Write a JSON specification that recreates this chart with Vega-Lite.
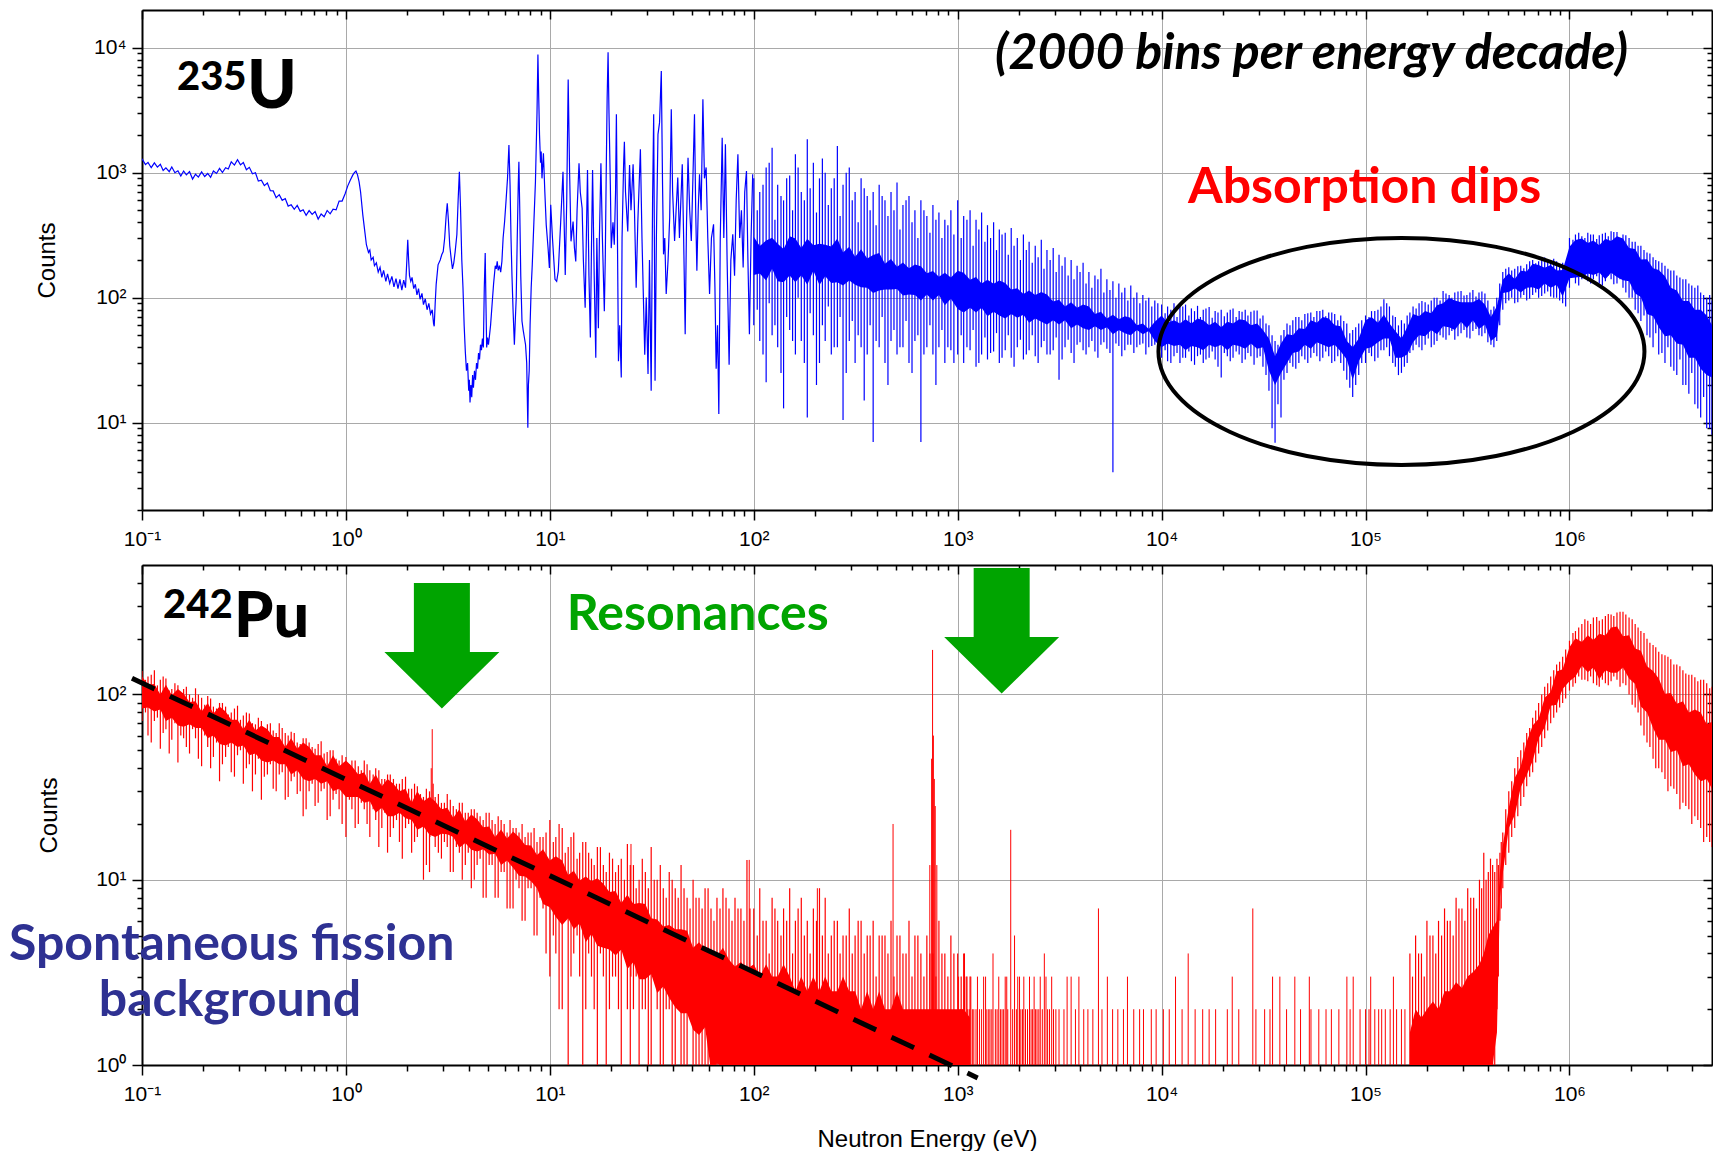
{
"$schema":"https://vega.github.io/schema/vega-lite/v6.json",
"background":"white",
"padding":{"left":9,"top":9,"right":0,"bottom":0},
"config":{"view":{"stroke":null},"axis":{"labelFont":"Liberation Sans","labelFontSize":21,"labelColor":"black","titleFont":"Liberation Sans","titleFontSize":24,"titleFontWeight":"normal","titleColor":"black","tickColor":"black","tickWidth":1.5,"domainColor":"black","domainWidth":2,"gridColor":"#a9a9a9","gridWidth":1,"labelFlush":false,"labelOverlap":false}},
"datasets":{
"uLine":[{"e":0.1,"c":1290},{"e":0.104,"c":1159},{"e":0.107,"c":1209},{"e":0.111,"c":1095},{"e":0.115,"c":1196},{"e":0.119,"c":1107},{"e":0.123,"c":1166},{"e":0.127,"c":1040},{"e":0.131,"c":1091},{"e":0.136,"c":1018},{"e":0.14,"c":1108},{"e":0.145,"c":999},{"e":0.15,"c":1035},{"e":0.155,"c":940},{"e":0.16,"c":1030},{"e":0.165,"c":960},{"e":0.171,"c":1021},{"e":0.177,"c":888},{"e":0.183,"c":970},{"e":0.189,"c":920},{"e":0.196,"c":1015},{"e":0.203,"c":931},{"e":0.21,"c":984},{"e":0.217,"c":917},{"e":0.224,"c":1030},{"e":0.232,"c":985},{"e":0.24,"c":1082},{"e":0.248,"c":1002},{"e":0.257,"c":1096},{"e":0.265,"c":1070},{"e":0.274,"c":1219},{"e":0.284,"c":1149},{"e":0.294,"c":1269},{"e":0.304,"c":1154},{"e":0.314,"c":1204},{"e":0.325,"c":1053},{"e":0.336,"c":1102},{"e":0.348,"c":980},{"e":0.36,"c":998},{"e":0.372,"c":855},{"e":0.385,"c":869},{"e":0.398,"c":787},{"e":0.412,"c":827},{"e":0.426,"c":718},{"e":0.44,"c":714},{"e":0.455,"c":630},{"e":0.471,"c":666},{"e":0.487,"c":600},{"e":0.504,"c":620},{"e":0.521,"c":540},{"e":0.539,"c":553},{"e":0.558,"c":509},{"e":0.577,"c":546},{"e":0.597,"c":490},{"e":0.617,"c":505},{"e":0.638,"c":456},{"e":0.66,"c":497},{"e":0.683,"c":463},{"e":0.706,"c":489},{"e":0.731,"c":425},{"e":0.756,"c":467},{"e":0.782,"c":444},{"e":0.809,"c":498},{"e":0.837,"c":468},{"e":0.865,"c":510},{"e":0.895,"c":504},{"e":0.926,"c":593},{"e":0.958,"c":592},{"e":0.99,"c":675},
{"e":1.02,"c":780},{"e":1.05,"c":870},{"e":1.08,"c":955},{"e":1.1,"c":1000},{"e":1.12,"c":1031},{"e":1.14,"c":960},{"e":1.16,"c":848},{"e":1.18,"c":700},{"e":1.21,"c":459},{"e":1.24,"c":330},{"e":1.26,"c":265},{"e":1.29,"c":230},{"e":1.31,"c":240},{"e":1.33,"c":200},{"e":1.36,"c":210},{"e":1.38,"c":180},{"e":1.41,"c":190},{"e":1.44,"c":160},{"e":1.47,"c":175},{"e":1.5,"c":145},{"e":1.53,"c":165},{"e":1.57,"c":135},{"e":1.6,"c":155},{"e":1.64,"c":130},{"e":1.68,"c":148},{"e":1.72,"c":122},{"e":1.76,"c":142},{"e":1.8,"c":118},{"e":1.84,"c":140},{"e":1.88,"c":115},{"e":1.92,"c":138},{"e":1.96,"c":120},{"e":1.99,"c":200},{"e":2.01,"c":290},{"e":2.03,"c":200},{"e":2.05,"c":150},{"e":2.08,"c":135},{"e":2.11,"c":145},{"e":2.15,"c":118},{"e":2.19,"c":128},{"e":2.23,"c":105},{"e":2.27,"c":118},{"e":2.31,"c":97},{"e":2.36,"c":108},{"e":2.4,"c":88},{"e":2.45,"c":98},{"e":2.5,"c":80},{"e":2.55,"c":90},{"e":2.6,"c":74},{"e":2.65,"c":80},{"e":2.69,"c":62},{"e":2.71,"c":59},{"e":2.74,"c":90},{"e":2.77,"c":127},{"e":2.83,"c":183},{"e":2.9,"c":200},{"e":2.95,"c":220},{"e":3.0,"c":234},{"e":3.05,"c":300},{"e":3.1,"c":450},{"e":3.14,"c":569},{"e":3.18,"c":420},{"e":3.23,"c":260},{"e":3.28,"c":207},{"e":3.33,"c":170},{"e":3.38,"c":190},{"e":3.43,"c":230},{"e":3.5,"c":320},{"e":3.55,"c":600},{"e":3.6,"c":1018},{"e":3.65,"c":500},{"e":3.7,"c":200},{"e":3.75,"c":120},{"e":3.8,"c":60},{"e":3.85,"c":37},{"e":3.9,"c":26},{"e":3.95,"c":30},{"e":4.0,"c":18},{"e":4.03,"c":22},{"e":4.06,"c":14.5},{"e":4.1,"c":20},{"e":4.14,"c":16},{"e":4.18,"c":24},{"e":4.22,"c":19},{"e":4.27,"c":26},{"e":4.32,"c":22},{"e":4.37,"c":30},{"e":4.42,"c":27},{"e":4.47,"c":36},{"e":4.52,"c":32},{"e":4.57,"c":42},{"e":4.62,"c":38},{"e":4.67,"c":47},{"e":4.72,"c":40},{"e":4.77,"c":120},{"e":4.82,"c":227},{"e":4.86,"c":90},{"e":4.9,"c":40},{"e":4.95,"c":48},{"e":5.0,"c":42},{"e":5.06,"c":50},{"e":5.12,"c":60},{"e":5.2,"c":85},{"e":5.3,"c":130},{"e":5.4,"c":180},{"e":5.46,"c":170},{"e":5.52,"c":195},{"e":5.58,"c":165},{"e":5.66,"c":180},{"e":5.74,"c":160},{"e":5.82,"c":195},{"e":5.9,"c":300},{"e":6.0,"c":406},{"e":6.1,"c":600},{"e":6.2,"c":900},{"e":6.3,"c":1660},{"e":6.38,"c":800},{"e":6.45,"c":300},{"e":6.52,"c":150},{"e":6.6,"c":80},{"e":6.7,"c":42},{"e":6.78,"c":70},{"e":6.84,"c":99},{"e":6.92,"c":300},{"e":7.0,"c":800},{"e":7.05,"c":1224},{"e":7.12,"c":500},{"e":7.2,"c":150},{"e":7.3,"c":65},{"e":7.4,"c":55},{"e":7.5,"c":48},{"e":7.6,"c":42},{"e":7.7,"c":30},{"e":7.8,"c":9.1},{"e":7.85,"c":20},{"e":7.92,"c":26},{"e":8.0,"c":60},{"e":8.1,"c":120},{"e":8.2,"c":183},{"e":8.35,"c":400},{"e":8.5,"c":848},{"e":8.65,"c":3000},{"e":8.74,"c":8800},{"e":8.82,"c":4000},{"e":8.9,"c":2000},{"e":9.0,"c":1200},{"e":9.07,"c":1472},{"e":9.15,"c":900},{"e":9.3,"c":1430},{"e":9.45,"c":700},{"e":9.6,"c":382},{"e":9.8,"c":250},{"e":9.95,"c":173},{"e":10.1,"c":552},{"e":10.3,"c":300},{"e":10.6,"c":140},{"e":10.8,"c":135},{"e":11.0,"c":163},{"e":11.3,"c":400},{"e":11.6,"c":1018},{"e":11.75,"c":400},{"e":11.9,"c":152},{"e":12.1,"c":600},{"e":12.3,"c":5560},{"e":12.5,"c":1000},{"e":12.7,"c":282},{"e":13.0,"c":406},{"e":13.2,"c":250},{"e":13.4,"c":195},{"e":13.6,"c":500},{"e":13.9,"c":1187},{"e":14.1,"c":700},{"e":14.4,"c":519},{"e":14.6,"c":200},{"e":14.9,"c":83},{"e":15.1,"c":300},{"e":15.3,"c":1050},{"e":15.55,"c":150},{"e":15.8,"c":48},{"e":16.0,"c":250},{"e":16.2,"c":1050},{"e":16.5,"c":150},{"e":16.8,"c":33},{"e":17.0,"c":300},{"e":17.3,"c":57},{"e":17.5,"c":300},{"e":17.8,"c":1187},{"e":18.1,"c":300},{"e":18.5,"c":78},{"e":18.7,"c":209},{"e":18.9,"c":1000},{"e":19.1,"c":4000},{"e":19.3,"c":9200},{"e":19.5,"c":3000},{"e":19.8,"c":800},{"e":20.0,"c":249},{"e":20.4,"c":400},{"e":20.7,"c":265},{"e":21.0,"c":700},{"e":21.2,"c":2930},{"e":21.4,"c":500},{"e":21.7,"c":31},{"e":22.0,"c":60},{"e":22.4,"c":23},{"e":22.6,"c":300},{"e":23.0,"c":1166},{"e":23.2,"c":1767},{"e":23.5,"c":700},{"e":24.1,"c":338},{"e":24.6,"c":1150},{"e":25.0,"c":500},{"e":25.6,"c":1166},{"e":26.0,"c":500},{"e":26.5,"c":120},{"e":27.0,"c":400},{"e":27.8,"c":1536},{"e":28.3,"c":300},{"e":29.2,"c":35},{"e":29.7,"c":100},{"e":30.3,"c":24.5},{"e":30.8,"c":200},{"e":31.4,"c":18},{"e":31.9,"c":600},{"e":32.3,"c":2930},{"e":32.6,"c":200},{"e":32.8,"c":21.6},{"e":33.3,"c":300},{"e":33.9,"c":2025},{"e":34.5,"c":2500},{"e":35.2,"c":6500},{"e":35.7,"c":800},{"e":36.1,"c":222},{"e":36.6,"c":300},{"e":37.2,"c":107},{"e":38.0,"c":200},{"e":38.7,"c":437},{"e":39.4,"c":3210},{"e":40.0,"c":700},{"e":40.9,"c":284},{"e":41.6,"c":500},{"e":42.4,"c":912},{"e":43.2,"c":300},{"e":44.6,"c":1166},{"e":45.3,"c":300},{"e":46.1,"c":51},{"e":46.8,"c":400},{"e":47.6,"c":1317},{"e":48.5,"c":500},{"e":49.4,"c":284},{"e":50.3,"c":900},{"e":51.2,"c":2930},{"e":51.9,"c":500},{"e":52.6,"c":164},{"e":53.4,"c":500},{"e":54.2,"c":970},{"e":55.2,"c":500},{"e":56.3,"c":3860},{"e":57.3,"c":900},{"e":58.4,"c":1100},{"e":59.5,"c":300},{"e":60.7,"c":107},{"e":62.0,"c":300},{"e":63.5,"c":386},{"e":64.5,"c":120},{"e":65.4,"c":27},{"e":66.4,"c":60},{"e":67.4,"c":11.7},{"e":68.5,"c":300},{"e":70,"c":1900},{"e":71.3,"c":300},{"e":72.6,"c":1690},{"e":74,"c":200},{"e":75.7,"c":29},{"e":77.2,"c":200},{"e":78.9,"c":321},{"e":80.5,"c":150},{"e":82,"c":600},{"e":83.6,"c":1400},{"e":85.3,"c":300},{"e":87,"c":500},{"e":88.7,"c":174},{"e":90.3,"c":700},{"e":92.1,"c":1031},{"e":93.6,"c":200},{"e":95.2,"c":51},{"e":97,"c":300},{"e":98.8,"c":970}],
"uBand":[{"e":100,"lo":60,"hi":900,"cl":152,"ch":307},{"e":107,"lo":45,"hi":700,"cl":156,"ch":259},{"e":115,"lo":21,"hi":1100,"cl":137,"ch":286},{"e":123,"lo":50,"hi":1580,"cl":170,"ch":301},{"e":131,"lo":40,"hi":800,"cl":135,"ch":270},{"e":140,"lo":13,"hi":600,"cl":133,"ch":245},{"e":150,"lo":55,"hi":950,"cl":150,"ch":310},{"e":160,"lo":35,"hi":1400,"cl":133,"ch":297},{"e":171,"lo":45,"hi":700,"cl":151,"ch":250},{"e":183,"lo":11,"hi":1850,"cl":127,"ch":296},{"e":196,"lo":50,"hi":1200,"cl":164,"ch":263},{"e":210,"lo":30,"hi":900,"cl":126,"ch":270},{"e":224,"lo":45,"hi":1000,"cl":148,"ch":265},{"e":240,"lo":35,"hi":750,"cl":131,"ch":257},{"e":257,"lo":40,"hi":1635,"cl":133,"ch":297},{"e":274,"lo":10.5,"hi":800,"cl":125,"ch":230},{"e":294,"lo":45,"hi":1100,"cl":137,"ch":255},{"e":314,"lo":30,"hi":700,"cl":127,"ch":212},{"e":336,"lo":40,"hi":900,"cl":121,"ch":244},{"e":360,"lo":35,"hi":650,"cl":120,"ch":206},{"e":385,"lo":7,"hi":700,"cl":109,"ch":219},{"e":412,"lo":40,"hi":800,"cl":114,"ch":228},{"e":440,"lo":30,"hi":600,"cl":116,"ch":187},{"e":471,"lo":45,"hi":700,"cl":116,"ch":204},{"e":504,"lo":35,"hi":832,"cl":117,"ch":177},{"e":539,"lo":40,"hi":550,"cl":104,"ch":191},{"e":577,"lo":30,"hi":650,"cl":106,"ch":172},{"e":617,"lo":45,"hi":500,"cl":105,"ch":184},{"e":660,"lo":7,"hi":600,"cl":95,"ch":178},{"e":706,"lo":40,"hi":450,"cl":106,"ch":157},{"e":756,"lo":35,"hi":550,"cl":95,"ch":163},{"e":809,"lo":40,"hi":480,"cl":105,"ch":147},{"e":865,"lo":30,"hi":420,"cl":87,"ch":158},{"e":926,"lo":38,"hi":500,"cl":98,"ch":145},
{"e":1000,"lo":35,"hi":600,"cl":81,"ch":164},{"e":1070,"lo":30,"hi":450,"cl":76,"ch":158},{"e":1150,"lo":38,"hi":500,"cl":83,"ch":139},{"e":1230,"lo":28,"hi":420,"cl":76,"ch":146},{"e":1310,"lo":35,"hi":480,"cl":83,"ch":130},{"e":1400,"lo":32,"hi":380,"cl":71,"ch":139},{"e":1500,"lo":37,"hi":400,"cl":77,"ch":129},{"e":1600,"lo":30,"hi":350,"cl":72,"ch":137},{"e":1710,"lo":38,"hi":330,"cl":68,"ch":131},{"e":1830,"lo":33,"hi":360,"cl":74,"ch":116},{"e":1960,"lo":40,"hi":300,"cl":69,"ch":119},{"e":2100,"lo":32,"hi":320,"cl":73,"ch":107},{"e":2240,"lo":38,"hi":280,"cl":63,"ch":114},{"e":2400,"lo":34,"hi":260,"cl":68,"ch":105},{"e":2570,"lo":40,"hi":290,"cl":64,"ch":111},{"e":2740,"lo":35,"hi":240,"cl":61,"ch":106},{"e":2940,"lo":38,"hi":250,"cl":66,"ch":93},{"e":3140,"lo":22,"hi":220,"cl":61,"ch":96},{"e":3360,"lo":40,"hi":210,"cl":66,"ch":85},{"e":3600,"lo":36,"hi":200,"cl":57,"ch":92},{"e":3850,"lo":42,"hi":180,"cl":61,"ch":83},{"e":4120,"lo":38,"hi":190,"cl":57,"ch":88},{"e":4400,"lo":40,"hi":160,"cl":55,"ch":85},{"e":4710,"lo":37,"hi":150,"cl":59,"ch":74},{"e":5040,"lo":42,"hi":170,"cl":55,"ch":77},{"e":5390,"lo":39,"hi":140,"cl":58,"ch":68},{"e":5770,"lo":4,"hi":135,"cl":51,"ch":73},{"e":6170,"lo":41,"hi":130,"cl":55,"ch":67},{"e":6600,"lo":38,"hi":120,"cl":52,"ch":71},{"e":7060,"lo":42,"hi":125,"cl":50,"ch":69},{"e":7560,"lo":40,"hi":110,"cl":55,"ch":60},{"e":8090,"lo":43,"hi":105,"cl":51,"ch":62},{"e":8650,"lo":40,"hi":100,"cl":54,"ch":56},{"e":9260,"lo":42,"hi":95,"cl":45,"ch":64},
{"e":10000,"lo":33,"hi":88,"cl":40,"ch":72},{"e":10700,"lo":31,"hi":85,"cl":43,"ch":63},{"e":11500,"lo":34,"hi":90,"cl":41,"ch":66},{"e":12300,"lo":30,"hi":84,"cl":42,"ch":62},{"e":13100,"lo":33,"hi":88,"cl":38,"ch":67},{"e":14000,"lo":31,"hi":82,"cl":41,"ch":62},{"e":15000,"lo":34,"hi":86,"cl":40,"ch":68},{"e":16000,"lo":30,"hi":80,"cl":38,"ch":66},{"e":17100,"lo":33,"hi":84,"cl":42,"ch":60},{"e":18300,"lo":32,"hi":78,"cl":40,"ch":64},{"e":19600,"lo":23,"hi":80,"cl":42,"ch":58},{"e":21000,"lo":34,"hi":76,"cl":38,"ch":64},{"e":22400,"lo":33,"hi":82,"cl":42,"ch":62},{"e":24000,"lo":35,"hi":78,"cl":41,"ch":67},{"e":25700,"lo":32,"hi":80,"cl":39,"ch":66},{"e":27400,"lo":34,"hi":77,"cl":43,"ch":60},{"e":29400,"lo":33,"hi":79,"cl":39,"ch":62},{"e":31400,"lo":28,"hi":72,"cl":40,"ch":55},{"e":33600,"lo":18,"hi":60,"cl":26,"ch":47},{"e":36000,"lo":6.9,"hi":45,"cl":20,"ch":34},{"e":38500,"lo":11,"hi":50,"cl":25,"ch":43},{"e":41200,"lo":25,"hi":62,"cl":30,"ch":51},{"e":44000,"lo":28,"hi":66,"cl":36,"ch":50},{"e":47100,"lo":30,"hi":70,"cl":37,"ch":57},{"e":50400,"lo":32,"hi":74,"cl":42,"ch":56},{"e":53900,"lo":33,"hi":76,"cl":39,"ch":66},{"e":57700,"lo":34,"hi":78,"cl":44,"ch":63},{"e":61700,"lo":33,"hi":80,"cl":42,"ch":70},{"e":66000,"lo":34,"hi":76,"cl":40,"ch":68},{"e":70600,"lo":31,"hi":74,"cl":42,"ch":60},{"e":75600,"lo":30,"hi":72,"cl":37,"ch":59},{"e":80900,"lo":22,"hi":62,"cl":32,"ch":45},{"e":86500,"lo":16,"hi":55,"cl":22,"ch":40},{"e":92600,"lo":24,"hi":62,"cl":31,"ch":47},
{"e":100000,"lo":30,"hi":72,"cl":39,"ch":66},{"e":107000,"lo":34,"hi":78,"cl":40,"ch":70},{"e":115000,"lo":33,"hi":80,"cl":44,"ch":63},{"e":123000,"lo":38,"hi":97,"cl":47,"ch":73},{"e":131000,"lo":34,"hi":85,"cl":47,"ch":62},{"e":140000,"lo":28,"hi":70,"cl":33,"ch":54},{"e":150000,"lo":25,"hi":66,"cl":33,"ch":47},{"e":160000,"lo":30,"hi":72,"cl":35,"ch":58},{"e":171000,"lo":38,"hi":85,"cl":44,"ch":74},{"e":183000,"lo":40,"hi":90,"cl":50,"ch":71},{"e":196000,"lo":42,"hi":92,"cl":49,"ch":78},{"e":210000,"lo":40,"hi":95,"cl":55,"ch":75},{"e":224000,"lo":45,"hi":100,"cl":51,"ch":87},{"e":240000,"lo":48,"hi":113,"cl":59,"ch":90},{"e":257000,"lo":50,"hi":105,"cl":58,"ch":100},{"e":274000,"lo":46,"hi":110,"cl":55,"ch":95},{"e":294000,"lo":52,"hi":113,"cl":64,"ch":92},{"e":314000,"lo":48,"hi":105,"cl":57,"ch":92},{"e":336000,"lo":54,"hi":115,"cl":66,"ch":92},{"e":360000,"lo":50,"hi":110,"cl":56,"ch":98},{"e":385000,"lo":52,"hi":108,"cl":61,"ch":88},{"e":412000,"lo":42,"hi":80,"cl":45,"ch":70},{"e":440000,"lo":45,"hi":100,"cl":49,"ch":85},{"e":471000,"lo":80,"hi":160,"cl":109,"ch":139},{"e":504000,"lo":95,"hi":175,"cl":111,"ch":157},{"e":539000,"lo":90,"hi":170,"cl":119,"ch":141},{"e":577000,"lo":100,"hi":180,"cl":110,"ch":164},{"e":617000,"lo":95,"hi":185,"cl":120,"ch":162},{"e":660000,"lo":105,"hi":200,"cl":121,"ch":187},{"e":706000,"lo":100,"hi":195,"cl":116,"ch":182},{"e":756000,"lo":108,"hi":209,"cl":130,"ch":173},{"e":809000,"lo":102,"hi":200,"cl":120,"ch":182},{"e":865000,"lo":100,"hi":195,"cl":127,"ch":165},{"e":926000,"lo":90,"hi":190,"cl":102,"ch":166},
{"e":1000000,"lo":120,"hi":300,"cl":143,"ch":255},{"e":1070000,"lo":130,"hi":320,"cl":145,"ch":289},{"e":1150000,"lo":140,"hi":310,"cl":147,"ch":297},{"e":1230000,"lo":135,"hi":330,"cl":156,"ch":274},{"e":1310000,"lo":140,"hi":320,"cl":152,"ch":286},{"e":1400000,"lo":130,"hi":315,"cl":159,"ch":263},{"e":1500000,"lo":135,"hi":330,"cl":140,"ch":296},{"e":1600000,"lo":140,"hi":340,"cl":158,"ch":284},{"e":1710000,"lo":130,"hi":335,"cl":146,"ch":310},{"e":1830000,"lo":120,"hi":320,"cl":138,"ch":297},{"e":1960000,"lo":100,"hi":300,"cl":135,"ch":250},{"e":2100000,"lo":80,"hi":280,"cl":108,"ch":245},{"e":2240000,"lo":65,"hi":260,"cl":101,"ch":202},{"e":2400000,"lo":50,"hi":230,"cl":74,"ch":203},{"e":2570000,"lo":40,"hi":210,"cl":71,"ch":172},{"e":2740000,"lo":35,"hi":195,"cl":58,"ch":166},{"e":2940000,"lo":30,"hi":180,"cl":49,"ch":148},{"e":3140000,"lo":28,"hi":165,"cl":50,"ch":120},{"e":3360000,"lo":24,"hi":150,"cl":43,"ch":114},{"e":3600000,"lo":20,"hi":140,"cl":42,"ch":94},{"e":3850000,"lo":17,"hi":130,"cl":33,"ch":94},{"e":4120000,"lo":14,"hi":120,"cl":33,"ch":80},{"e":4400000,"lo":11,"hi":110,"cl":27,"ch":80},{"e":4710000,"lo":9,"hi":100,"cl":24,"ch":72},{"e":5000000,"lo":8,"hi":95,"cl":23,"ch":60}],
"uRules2":[{"e":104,"lo":80,"hi":500},{"e":111,"lo":35,"hi":800},{"e":119,"lo":90,"hi":1200},{"e":127,"lo":60,"hi":420},{"e":136,"lo":25,"hi":650},{"e":145,"lo":70,"hi":900},{"e":155,"lo":45,"hi":500},{"e":165,"lo":100,"hi":1100},{"e":177,"lo":30,"hi":600},{"e":189,"lo":75,"hi":750},{"e":203,"lo":20,"hi":480},{"e":217,"lo":60,"hi":1300},{"e":232,"lo":85,"hi":550},{"e":248,"lo":40,"hi":900},{"e":265,"lo":70,"hi":450},{"e":284,"lo":25,"hi":1000},{"e":304,"lo":65,"hi":600},{"e":325,"lo":50,"hi":400},{"e":348,"lo":15,"hi":750},{"e":372,"lo":60,"hi":500},{"e":398,"lo":45,"hi":380},{"e":426,"lo":70,"hi":650},{"e":455,"lo":20,"hi":450},{"e":487,"lo":55,"hi":500},{"e":521,"lo":40,"hi":350},{"e":558,"lo":65,"hi":600},{"e":597,"lo":25,"hi":400},{"e":638,"lo":50,"hi":300},{"e":683,"lo":35,"hi":500},{"e":731,"lo":60,"hi":330},{"e":782,"lo":20,"hi":420},{"e":837,"lo":55,"hi":300},{"e":895,"lo":40,"hi":380},{"e":958,"lo":30,"hi":320},
{"e":1040,"lo":50,"hi":300},{"e":1110,"lo":40,"hi":420},{"e":1190,"lo":55,"hi":260},{"e":1270,"lo":30,"hi":350},{"e":1360,"lo":48,"hi":280},{"e":1450,"lo":36,"hi":300},{"e":1550,"lo":52,"hi":240},{"e":1650,"lo":33,"hi":320},{"e":1770,"lo":50,"hi":220},{"e":1890,"lo":28,"hi":260},{"e":2030,"lo":46,"hi":200},{"e":2170,"lo":35,"hi":240},{"e":2320,"lo":50,"hi":190},{"e":2480,"lo":30,"hi":210},{"e":2650,"lo":45,"hi":170},{"e":2840,"lo":35,"hi":200},{"e":3040,"lo":48,"hi":160},{"e":3250,"lo":32,"hi":180},{"e":3480,"lo":46,"hi":150},{"e":3720,"lo":30,"hi":140},{"e":3980,"lo":44,"hi":160},{"e":4260,"lo":35,"hi":130},{"e":4550,"lo":45,"hi":120},{"e":4870,"lo":33,"hi":140},{"e":5210,"lo":44,"hi":110},{"e":5580,"lo":36,"hi":115},{"e":5970,"lo":43,"hi":100},{"e":6380,"lo":34,"hi":110},{"e":6830,"lo":42,"hi":95},{"e":7310,"lo":36,"hi":100},{"e":7820,"lo":42,"hi":90},{"e":8370,"lo":35,"hi":95},{"e":8950,"lo":41,"hi":85},{"e":9580,"lo":34,"hi":90},
{"e":10400,"lo":38,"hi":75},{"e":11100,"lo":30,"hi":80},{"e":11900,"lo":36,"hi":70},{"e":12700,"lo":33,"hi":85},{"e":13600,"lo":37,"hi":72},{"e":14500,"lo":29,"hi":78},{"e":15500,"lo":35,"hi":70},{"e":16500,"lo":32,"hi":82},{"e":17700,"lo":37,"hi":69},{"e":18900,"lo":28,"hi":76},{"e":20300,"lo":36,"hi":71},{"e":21700,"lo":31,"hi":80},{"e":23200,"lo":37,"hi":70},{"e":24800,"lo":30,"hi":77},{"e":26500,"lo":36,"hi":72},{"e":28400,"lo":29,"hi":79},{"e":30400,"lo":34,"hi":68},{"e":32500,"lo":24,"hi":62},{"e":34800,"lo":9,"hi":50},{"e":37200,"lo":14,"hi":42},{"e":39800,"lo":22,"hi":55},{"e":42600,"lo":30,"hi":60},{"e":45500,"lo":27,"hi":70},{"e":48700,"lo":34,"hi":66},{"e":52100,"lo":30,"hi":75},{"e":55800,"lo":36,"hi":70},{"e":59700,"lo":31,"hi":78},{"e":63800,"lo":37,"hi":71},{"e":68300,"lo":30,"hi":76},{"e":73100,"lo":34,"hi":66},{"e":78200,"lo":26,"hi":65},{"e":83700,"lo":19,"hi":52},{"e":89500,"lo":20,"hi":58},{"e":95800,"lo":30,"hi":66},
{"e":104000,"lo":36,"hi":70},{"e":111000,"lo":31,"hi":78},{"e":119000,"lo":38,"hi":85},{"e":127000,"lo":40,"hi":90},{"e":136000,"lo":30,"hi":72},{"e":145000,"lo":24,"hi":60},{"e":155000,"lo":28,"hi":62},{"e":165000,"lo":36,"hi":76},{"e":177000,"lo":42,"hi":82},{"e":189000,"lo":38,"hi":94},{"e":203000,"lo":47,"hi":88},{"e":217000,"lo":42,"hi":100},{"e":232000,"lo":50,"hi":95},{"e":248000,"lo":46,"hi":108},{"e":265000,"lo":54,"hi":100},{"e":284000,"lo":49,"hi":112},{"e":304000,"lo":55,"hi":104},{"e":325000,"lo":47,"hi":110},{"e":348000,"lo":56,"hi":102},{"e":372000,"lo":49,"hi":112},{"e":398000,"lo":44,"hi":95},{"e":426000,"lo":40,"hi":85},{"e":455000,"lo":60,"hi":130},{"e":487000,"lo":90,"hi":170},{"e":521000,"lo":100,"hi":165},{"e":558000,"lo":92,"hi":178},{"e":597000,"lo":105,"hi":172},{"e":638000,"lo":98,"hi":195},{"e":683000,"lo":110,"hi":188},{"e":731000,"lo":103,"hi":205},{"e":782000,"lo":112,"hi":196},{"e":837000,"lo":100,"hi":205},{"e":895000,"lo":95,"hi":185},{"e":958000,"lo":85,"hi":175},
{"e":1040000,"lo":150,"hi":290},{"e":1110000,"lo":125,"hi":330},{"e":1190000,"lo":150,"hi":300},{"e":1270000,"lo":130,"hi":320},{"e":1360000,"lo":148,"hi":295},{"e":1450000,"lo":125,"hi":325},{"e":1550000,"lo":150,"hi":310},{"e":1650000,"lo":128,"hi":335},{"e":1770000,"lo":140,"hi":300},{"e":1890000,"lo":110,"hi":315},{"e":2030000,"lo":100,"hi":280},{"e":2170000,"lo":75,"hi":260},{"e":2320000,"lo":72,"hi":240},{"e":2480000,"lo":48,"hi":225},{"e":2650000,"lo":52,"hi":200},{"e":2840000,"lo":36,"hi":190},{"e":3040000,"lo":40,"hi":170},{"e":3250000,"lo":26,"hi":165},{"e":3480000,"lo":32,"hi":145},{"e":3720000,"lo":20,"hi":140},{"e":3980000,"lo":25,"hi":125},{"e":4260000,"lo":13,"hi":125},{"e":4550000,"lo":16,"hi":105},{"e":4870000,"lo":9,"hi":105}],
"puBandA":[{"e":0.1,"lo":72,"hi":134,"cl":84,"ch":125},{"e":0.107,"lo":60,"hi":125,"cl":85,"ch":113},{"e":0.115,"lo":72,"hi":135,"cl":81,"ch":114},{"e":0.123,"lo":51,"hi":120,"cl":83,"ch":100},{"e":0.131,"lo":65,"hi":122,"cl":72,"ch":113},{"e":0.14,"lo":57,"hi":107,"cl":75,"ch":99},{"e":0.15,"lo":43,"hi":112,"cl":68,"ch":107},{"e":0.16,"lo":58,"hi":107,"cl":67,"ch":101},{"e":0.171,"lo":48,"hi":100,"cl":69,"ch":91},{"e":0.183,"lo":58,"hi":108,"cl":66,"ch":92},{"e":0.196,"lo":41,"hi":96,"cl":66,"ch":81},{"e":0.21,"lo":52,"hi":98,"cl":58,"ch":90},{"e":0.224,"lo":46,"hi":86,"cl":60,"ch":79},{"e":0.24,"lo":34,"hi":90,"cl":54,"ch":86},{"e":0.257,"lo":46,"hi":86,"cl":53,"ch":81},{"e":0.274,"lo":38,"hi":80,"cl":55,"ch":73},{"e":0.294,"lo":47,"hi":87,"cl":52,"ch":73},{"e":0.314,"lo":33,"hi":77,"cl":53,"ch":65},{"e":0.336,"lo":42,"hi":79,"cl":47,"ch":73},{"e":0.36,"lo":37,"hi":69,"cl":48,"ch":64},{"e":0.385,"lo":27,"hi":72,"cl":44,"ch":68},{"e":0.412,"lo":37,"hi":69,"cl":43,"ch":65},{"e":0.44,"lo":31,"hi":64,"cl":44,"ch":59},{"e":0.471,"lo":37,"hi":70,"cl":42,"ch":59},{"e":0.504,"lo":27,"hi":62,"cl":42,"ch":52},{"e":0.539,"lo":34,"hi":63,"cl":37,"ch":58},{"e":0.577,"lo":29,"hi":55,"cl":39,"ch":51},{"e":0.617,"lo":22,"hi":58,"cl":35,"ch":55},{"e":0.66,"lo":30,"hi":55,"cl":34,"ch":52},{"e":0.706,"lo":25,"hi":51,"cl":35,"ch":47},{"e":0.756,"lo":30,"hi":56,"cl":33,"ch":47},{"e":0.809,"lo":21,"hi":49,"cl":34,"ch":41},{"e":0.865,"lo":27,"hi":50,"cl":30,"ch":47},{"e":0.926,"lo":24,"hi":44,"cl":31,"ch":41},
{"e":1,"lo":17,"hi":46,"cl":28,"ch":44},{"e":1.07,"lo":24,"hi":44,"cl":28,"ch":41},{"e":1.15,"lo":20,"hi":41,"cl":28,"ch":37},{"e":1.23,"lo":24,"hi":44,"cl":26,"ch":38},{"e":1.31,"lo":17,"hi":39,"cl":26.5,"ch":33},{"e":1.4,"lo":21,"hi":40,"cl":23,"ch":37},{"e":1.5,"lo":19,"hi":35,"cl":24.5,"ch":32},{"e":1.6,"lo":14,"hi":37,"cl":22,"ch":35},{"e":1.71,"lo":19,"hi":35,"cl":22,"ch":33},{"e":1.83,"lo":16,"hi":33,"cl":23,"ch":30},{"e":1.96,"lo":19,"hi":36,"cl":21.5,"ch":31},{"e":2.1,"lo":14,"hi":31,"cl":21,"ch":26},{"e":2.24,"lo":17,"hi":32,"cl":18.6,"ch":30},{"e":2.4,"lo":10,"hi":28,"cl":19.4,"ch":26.5},{"e":2.57,"lo":11,"hi":30,"cl":17.5,"ch":28},{"e":2.74,"lo":15,"hi":28,"cl":17,"ch":26.5},{"e":2.94,"lo":13,"hi":26,"cl":17.7,"ch":24},{"e":3.14,"lo":15,"hi":29,"cl":17.6,"ch":24.5},{"e":3.36,"lo":11,"hi":25,"cl":17,"ch":21.6},{"e":3.6,"lo":14,"hi":26,"cl":14.9,"ch":24},{"e":3.85,"lo":12,"hi":23,"cl":15.8,"ch":20.6},{"e":4.12,"lo":9,"hi":24,"cl":14.5,"ch":22.5},{"e":4.4,"lo":12,"hi":23,"cl":14.2,"ch":21.2},{"e":4.71,"lo":8,"hi":21,"cl":14.6,"ch":19.2},{"e":5.04,"lo":12,"hi":23,"cl":13.7,"ch":19.4},{"e":5.39,"lo":8,"hi":20,"cl":13.8,"ch":17},{"e":5.77,"lo":11,"hi":21,"cl":12,"ch":18.7},{"e":6.17,"lo":7,"hi":18,"cl":12.7,"ch":16.7},{"e":6.6,"lo":7,"hi":19,"cl":11.6,"ch":18.2},{"e":7.06,"lo":9,"hi":18,"cl":10.5,"ch":17},{"e":7.56,"lo":6,"hi":17,"cl":10.4,"ch":15.4},{"e":8.09,"lo":9,"hi":18,"cl":9.8,"ch":15.3},{"e":8.65,"lo":5,"hi":16,"cl":9,"ch":13.6},{"e":9.26,"lo":7,"hi":17,"cl":7.4,"ch":14.6},
{"e":10,"lo":3,"hi":21,"cl":7.1,"ch":12.7},{"e":10.7,"lo":4,"hi":17,"cl":6.3,"ch":13.4},{"e":11.5,"lo":2,"hi":19,"cl":5.7,"ch":12.7},{"e":12.3,"lo":0.5,"hi":15,"cl":6.2,"ch":10.6},{"e":13.1,"lo":4,"hi":18,"cl":5.4,"ch":11.2},{"e":14,"lo":3,"hi":14,"cl":5.8,"ch":9.9},{"e":15,"lo":2,"hi":16,"cl":4.6,"ch":10.4},{"e":16,"lo":3,"hi":13,"cl":5.1,"ch":9.8},{"e":17.1,"lo":0.5,"hi":15,"cl":4.4,"ch":10.2},{"e":18.3,"lo":3,"hi":12,"cl":4.3,"ch":9.5},{"e":19.6,"lo":2,"hi":14,"cl":4.2,"ch":8.6},{"e":21,"lo":3,"hi":11,"cl":3.9,"ch":8.7},{"e":22.4,"lo":0.5,"hi":13,"cl":4.2,"ch":7.5},{"e":24,"lo":2,"hi":15.6,"cl":3.3,"ch":8.3},{"e":25.7,"lo":2,"hi":12,"cl":3.6,"ch":7.4},{"e":27.4,"lo":0.5,"hi":10,"cl":2.9,"ch":7.5},{"e":29.4,"lo":2,"hi":11,"cl":2.9,"ch":7.4},{"e":31.4,"lo":0.5,"hi":15,"cl":3.1,"ch":6.2},{"e":33.6,"lo":2,"hi":10,"cl":2.45,"ch":6.1},{"e":36,"lo":0.5,"hi":9,"cl":2.65,"ch":5.6},{"e":38.5,"lo":2,"hi":11,"cl":2.3,"ch":5.7},{"e":41.2,"lo":0.5,"hi":9,"cl":2.05,"ch":5.4},{"e":44,"lo":1,"hi":12,"cl":1.9,"ch":5.4},{"e":47.1,"lo":0.5,"hi":8,"cl":1.9,"ch":5.3},{"e":50.4,"lo":0.5,"hi":10,"cl":1.55,"ch":4.3},{"e":53.9,"lo":1,"hi":8,"cl":1.45,"ch":4.6},{"e":57.7,"lo":0.5,"hi":9,"cl":1.6,"ch":4.2},{"e":61.7,"lo":0.5,"hi":7,"cl":0.93,"ch":4.2},{"e":66,"lo":1,"hi":8,"cl":1.02,"ch":3.9},{"e":70.6,"lo":0.5,"hi":9,"cl":0.97,"ch":4.3},{"e":75.6,"lo":0.5,"hi":7,"cl":0.5,"ch":3.7},{"e":80.9,"lo":0.5,"hi":8,"cl":0.5,"ch":3.4},{"e":86.5,"lo":1,"hi":7,"cl":0.5,"ch":3.6},{"e":92.6,"lo":0.5,"hi":12.8,"cl":0.5,"ch":3.3},
{"e":100,"lo":0.5,"hi":7,"cl":0.5,"ch":3.5},{"e":107,"lo":0.5,"hi":9,"cl":0.5,"ch":3},{"e":115,"lo":0.5,"hi":6,"cl":0.5,"ch":3.5},{"e":123,"lo":0.5,"hi":8,"cl":0.5,"ch":3},{"e":131,"lo":0.5,"hi":6,"cl":0.5,"ch":3},{"e":140,"lo":0.5,"hi":7,"cl":0.5,"ch":3.5},{"e":150,"lo":0.5,"hi":9,"cl":0.5,"ch":3},{"e":160,"lo":0.5,"hi":6,"cl":0.5,"ch":2.5},{"e":171,"lo":0.5,"hi":8,"cl":0.5,"ch":3},{"e":183,"lo":0.5,"hi":6,"cl":0.5,"ch":2.5},{"e":196,"lo":0.5,"hi":7,"cl":0.5,"ch":3},{"e":210,"lo":0.5,"hi":9,"cl":0.5,"ch":2.5},{"e":224,"lo":0.5,"hi":8,"cl":0.5,"ch":3},{"e":240,"lo":0.5,"hi":5,"cl":0.5,"ch":2.5},{"e":257,"lo":0.5,"hi":6,"cl":0.5,"ch":2.5},{"e":274,"lo":0.5,"hi":5,"cl":0.5,"ch":3},{"e":294,"lo":0.5,"hi":7,"cl":0.5,"ch":2.5},{"e":314,"lo":0.5,"hi":5,"cl":0.5,"ch":2.5},{"e":336,"lo":0.5,"hi":6,"cl":0.5,"ch":2},{"e":360,"lo":0.5,"hi":5,"cl":0.5,"ch":2.5},{"e":385,"lo":0.5,"hi":6,"cl":0.5,"ch":2},{"e":412,"lo":0.5,"hi":5,"cl":0.5,"ch":2.5},{"e":440,"lo":0.5,"hi":5,"cl":0.5,"ch":2},{"e":471,"lo":0.5,"hi":6,"cl":0.5,"ch":2},{"e":504,"lo":0.5,"hi":5,"cl":0.5,"ch":2.5},{"e":539,"lo":0.5,"hi":4,"cl":0.5,"ch":2},{"e":577,"lo":0.5,"hi":6,"cl":0.5,"ch":2},{"e":617,"lo":0.5,"hi":5,"cl":0.5,"ch":2},{"e":660,"lo":0.5,"hi":4,"cl":0.5,"ch":2},{"e":706,"lo":0.5,"hi":5,"cl":0.5,"ch":2},{"e":756,"lo":0.5,"hi":4,"cl":0.5,"ch":2},{"e":809,"lo":0.5,"hi":6,"cl":0.5,"ch":2},{"e":865,"lo":0.5,"hi":4,"cl":0.5,"ch":2},{"e":926,"lo":0.5,"hi":5,"cl":0.5,"ch":2},{"e":1000,"lo":0.5,"hi":4,"cl":0.5,"ch":2},{"e":1070,"lo":0.5,"hi":4,"cl":0.5,"ch":2},{"e":1150,"lo":0.5,"hi":3,"cl":0.5,"ch":1.8}],
"puBandB":[{"e":165000,"lo":0.5,"hi":4,"cl":0.5,"ch":1.5},{"e":176000,"lo":0.5,"hi":5,"cl":0.5,"ch":2},{"e":188000,"lo":0.5,"hi":4,"cl":0.5,"ch":1.8},{"e":200000,"lo":0.5,"hi":6,"cl":0.5,"ch":2},{"e":214000,"lo":0.5,"hi":5,"cl":0.5,"ch":2.2},{"e":228000,"lo":0.5,"hi":6,"cl":0.5,"ch":2},{"e":244000,"lo":0.5,"hi":7,"cl":0.5,"ch":2.5},{"e":260000,"lo":0.5,"hi":6,"cl":0.5,"ch":2.5},{"e":278000,"lo":0.5,"hi":8,"cl":0.5,"ch":2.8},{"e":297000,"lo":0.5,"hi":7,"cl":0.5,"ch":2.6},{"e":317000,"lo":0.5,"hi":9,"cl":0.5,"ch":3},{"e":339000,"lo":0.5,"hi":8,"cl":0.5,"ch":3.2},{"e":362000,"lo":0.5,"hi":10,"cl":0.5,"ch":3.5},{"e":380000,"lo":0.5,"hi":14,"cl":0.5,"ch":4},{"e":400000,"lo":1,"hi":11,"cl":1,"ch":5},{"e":420000,"lo":1,"hi":12,"cl":1,"ch":5.5},{"e":441000,"lo":2,"hi":13,"cl":1.5,"ch":6},{"e":456000,"lo":6,"hi":14,"cl":8,"ch":11},{"e":471000,"lo":9,"hi":18,"cl":10.8,"ch":15.3},{"e":504000,"lo":14,"hi":30,"cl":19,"ch":24.5},{"e":539000,"lo":19,"hi":40,"cl":22.3,"ch":35.4},{"e":577000,"lo":25,"hi":50,"cl":31.6,"ch":41},{"e":617000,"lo":32,"hi":62,"cl":36.9,"ch":55.6},{"e":660000,"lo":38,"hi":75,"cl":43.7,"ch":68},{"e":706000,"lo":48,"hi":90,"cl":58,"ch":74},{"e":756000,"lo":58,"hi":110,"cl":66.6,"ch":96},{"e":809000,"lo":70,"hi":125,"cl":87,"ch":103},{"e":865000,"lo":80,"hi":145,"cl":88,"ch":133},{"e":926000,"lo":90,"hi":160,"cl":107,"ch":137},{"e":1000000,"lo":105,"hi":195,"cl":118,"ch":180},{"e":1070000,"lo":115,"hi":220,"cl":125,"ch":201},{"e":1150000,"lo":120,"hi":240,"cl":143,"ch":192},{"e":1230000,"lo":118,"hi":250,"cl":132,"ch":209},{"e":1310000,"lo":115,"hi":260,"cl":140,"ch":197},{"e":1400000,"lo":110,"hi":250,"cl":121,"ch":213},{"e":1500000,"lo":115,"hi":265,"cl":135,"ch":208},{"e":1600000,"lo":118,"hi":270,"cl":131,"ch":230},{"e":1710000,"lo":120,"hi":277,"cl":131,"ch":233},{"e":1830000,"lo":115,"hi":280,"cl":140,"ch":206},{"e":1960000,"lo":100,"hi":260,"cl":122,"ch":209},{"e":2100000,"lo":85,"hi":240,"cl":114,"ch":177},{"e":2240000,"lo":68,"hi":220,"cl":86,"ch":172},{"e":2400000,"lo":55,"hi":200,"cl":80,"ch":142},{"e":2570000,"lo":45,"hi":185,"cl":66,"ch":134},{"e":2740000,"lo":40,"hi":170,"cl":57,"ch":122},{"e":2940000,"lo":35,"hi":163,"cl":57,"ch":101},{"e":3140000,"lo":32,"hi":155,"cl":49,"ch":102},{"e":3360000,"lo":29,"hi":145,"cl":50,"ch":89},{"e":3600000,"lo":26,"hi":135,"cl":41,"ch":92},{"e":3850000,"lo":24,"hi":128,"cl":42,"ch":80},{"e":4120000,"lo":22,"hi":124,"cl":37,"ch":83},{"e":4400000,"lo":19,"hi":120,"cl":34,"ch":80},{"e":4710000,"lo":17,"hi":115,"cl":35,"ch":69},{"e":5000000,"lo":15,"hi":110,"cl":31,"ch":71}],
"puRules2":[{"e":0.104,"lo":80,"hi":120},{"e":0.111,"lo":55,"hi":128},{"e":0.119,"lo":75,"hi":112},{"e":0.127,"lo":62,"hi":125},{"e":0.136,"lo":48,"hi":105},{"e":0.145,"lo":70,"hi":115},{"e":0.155,"lo":60,"hi":100},{"e":0.165,"lo":52,"hi":110},{"e":0.177,"lo":65,"hi":96},{"e":0.189,"lo":45,"hi":100},{"e":0.203,"lo":60,"hi":88},{"e":0.217,"lo":40,"hi":95},{"e":0.232,"lo":55,"hi":84},{"e":0.248,"lo":42,"hi":90},{"e":0.265,"lo":52,"hi":78},{"e":0.284,"lo":36,"hi":84},{"e":0.304,"lo":50,"hi":73},{"e":0.325,"lo":40,"hi":80},{"e":0.348,"lo":30,"hi":70},{"e":0.372,"lo":45,"hi":75},{"e":0.398,"lo":36,"hi":66},{"e":0.426,"lo":42,"hi":70},{"e":0.455,"lo":30,"hi":62},{"e":0.487,"lo":38,"hi":66},{"e":0.521,"lo":28,"hi":60},{"e":0.558,"lo":36,"hi":62},{"e":0.597,"lo":30,"hi":54},{"e":0.638,"lo":24,"hi":58},{"e":0.683,"lo":33,"hi":52},{"e":0.731,"lo":26,"hi":54},{"e":0.782,"lo":31,"hi":48},{"e":0.837,"lo":22,"hi":50},{"e":0.895,"lo":29,"hi":45},{"e":0.958,"lo":20,"hi":47},
{"e":1.04,"lo":27,"hi":42},{"e":1.11,"lo":19,"hi":44},{"e":1.19,"lo":26,"hi":39},{"e":1.27,"lo":20,"hi":42},{"e":1.36,"lo":24,"hi":37},{"e":1.45,"lo":15,"hi":39},{"e":1.55,"lo":23,"hi":35},{"e":1.65,"lo":17,"hi":37},{"e":1.77,"lo":21,"hi":33},{"e":1.89,"lo":13,"hi":35},{"e":2.03,"lo":20,"hi":31},{"e":2.17,"lo":16,"hi":33},{"e":2.32,"lo":19,"hi":29},{"e":2.48,"lo":12,"hi":31},{"e":2.58,"lo":17,"hi":28},{"e":2.84,"lo":14,"hi":29},{"e":3.04,"lo":16,"hi":26},{"e":3.25,"lo":11,"hi":27},{"e":3.48,"lo":15,"hi":24},{"e":3.72,"lo":10,"hi":26},{"e":3.98,"lo":14,"hi":23},{"e":4.26,"lo":10,"hi":24},{"e":4.55,"lo":13,"hi":22},{"e":4.87,"lo":8,"hi":23},{"e":5.21,"lo":12,"hi":21},{"e":5.58,"lo":8,"hi":22},{"e":5.97,"lo":11,"hi":20},{"e":6.38,"lo":7,"hi":21},{"e":6.83,"lo":10,"hi":19},{"e":7.31,"lo":6,"hi":20},{"e":7.82,"lo":9,"hi":18},{"e":8.37,"lo":5,"hi":19},{"e":8.95,"lo":8,"hi":17},{"e":9.58,"lo":4,"hi":18},
{"e":10.4,"lo":5,"hi":16},{"e":11.1,"lo":2,"hi":20},{"e":11.9,"lo":6,"hi":14},{"e":12.7,"lo":3,"hi":17},{"e":13.6,"lo":5,"hi":13},{"e":14.5,"lo":0.5,"hi":16},{"e":15.5,"lo":4,"hi":14},{"e":16.5,"lo":2,"hi":12},{"e":17.7,"lo":4,"hi":15},{"e":18.9,"lo":0.5,"hi":11},{"e":20.3,"lo":3,"hi":13},{"e":21.7,"lo":2,"hi":12},{"e":23.2,"lo":4,"hi":10},{"e":24.8,"lo":0.5,"hi":12},{"e":26.5,"lo":3,"hi":9},{"e":28.4,"lo":2,"hi":13},{"e":30.4,"lo":0.5,"hi":9},{"e":32.5,"lo":3,"hi":10},{"e":34.8,"lo":1,"hi":12},{"e":37.2,"lo":2,"hi":8},{"e":39.8,"lo":0.5,"hi":10},{"e":42.6,"lo":2,"hi":8},{"e":45.5,"lo":0.5,"hi":9},{"e":48.7,"lo":2,"hi":7},{"e":52.1,"lo":0.5,"hi":8},{"e":55.8,"lo":1,"hi":7},{"e":59.7,"lo":0.5,"hi":9},{"e":63.8,"lo":2,"hi":6},{"e":68.3,"lo":0.5,"hi":7},{"e":73.1,"lo":1,"hi":8},{"e":78.2,"lo":0.5,"hi":6},{"e":83.7,"lo":0.5,"hi":7},{"e":89.5,"lo":1,"hi":6},{"e":95.8,"lo":0.5,"hi":7},
{"e":104,"lo":0.5,"hi":5},{"e":111,"lo":0.5,"hi":6},{"e":119,"lo":0.5,"hi":4},{"e":127,"lo":0.5,"hi":7},{"e":136,"lo":0.5,"hi":5},{"e":145,"lo":0.5,"hi":6},{"e":155,"lo":0.5,"hi":4},{"e":165,"lo":0.5,"hi":7},{"e":177,"lo":0.5,"hi":5},{"e":189,"lo":0.5,"hi":4},{"e":203,"lo":0.5,"hi":6},{"e":217,"lo":0.5,"hi":5},{"e":232,"lo":0.5,"hi":4},{"e":248,"lo":0.5,"hi":6},{"e":265,"lo":0.5,"hi":4},{"e":284,"lo":0.5,"hi":5},{"e":304,"lo":0.5,"hi":4},{"e":325,"lo":0.5,"hi":6},{"e":348,"lo":0.5,"hi":4},{"e":372,"lo":0.5,"hi":5},{"e":398,"lo":0.5,"hi":3},{"e":426,"lo":0.5,"hi":5},{"e":455,"lo":0.5,"hi":4},{"e":487,"lo":0.5,"hi":3},{"e":521,"lo":0.5,"hi":5},{"e":558,"lo":0.5,"hi":4},{"e":597,"lo":0.5,"hi":3},{"e":638,"lo":0.5,"hi":5},{"e":683,"lo":0.5,"hi":3},{"e":731,"lo":0.5,"hi":4},{"e":782,"lo":0.5,"hi":3},{"e":837,"lo":0.5,"hi":4},{"e":895,"lo":0.5,"hi":3},{"e":958,"lo":0.5,"hi":4},{"e":1040,"lo":0.5,"hi":3},{"e":1110,"lo":0.5,"hi":3},
{"e":170000,"lo":0.5,"hi":3},{"e":182000,"lo":0.5,"hi":4},{"e":194000,"lo":0.5,"hi":3},{"e":207000,"lo":0.5,"hi":5},{"e":221000,"lo":0.5,"hi":4},{"e":236000,"lo":0.5,"hi":5},{"e":252000,"lo":0.5,"hi":6},{"e":269000,"lo":0.5,"hi":5},{"e":287000,"lo":0.5,"hi":7},{"e":307000,"lo":0.5,"hi":6},{"e":328000,"lo":0.5,"hi":8},{"e":350000,"lo":0.5,"hi":7},{"e":371000,"lo":0.5,"hi":9},{"e":390000,"lo":0.5,"hi":10},{"e":410000,"lo":1,"hi":13},{"e":430000,"lo":1,"hi":11},{"e":448000,"lo":3,"hi":12},{"e":463000,"lo":7,"hi":16},{"e":487000,"lo":12,"hi":24},{"e":521000,"lo":17,"hi":34},{"e":558000,"lo":22,"hi":46},{"e":597000,"lo":28,"hi":55},{"e":638000,"lo":36,"hi":66},{"e":683000,"lo":43,"hi":82},{"e":731000,"lo":52,"hi":100},{"e":782000,"lo":64,"hi":115},{"e":837000,"lo":75,"hi":135},{"e":895000,"lo":85,"hi":150},{"e":958000,"lo":95,"hi":175},{"e":1040000,"lo":110,"hi":215},{"e":1110000,"lo":125,"hi":230},{"e":1190000,"lo":120,"hi":255},{"e":1270000,"lo":125,"hi":240},{"e":1360000,"lo":112,"hi":262},{"e":1450000,"lo":120,"hi":255},{"e":1550000,"lo":112,"hi":272},{"e":1650000,"lo":125,"hi":265},{"e":1770000,"lo":110,"hi":280},{"e":1890000,"lo":112,"hi":270},{"e":2030000,"lo":88,"hi":255},{"e":2170000,"lo":80,"hi":230},{"e":2320000,"lo":60,"hi":215},{"e":2480000,"lo":52,"hi":190},{"e":2650000,"lo":40,"hi":180},{"e":2840000,"lo":38,"hi":165},{"e":3040000,"lo":30,"hi":160},{"e":3250000,"lo":31,"hi":145},{"e":3480000,"lo":24,"hi":142},{"e":3720000,"lo":25,"hi":130},{"e":3980000,"lo":20,"hi":128},{"e":4260000,"lo":21,"hi":118},{"e":4550000,"lo":16,"hi":120},{"e":4870000,"lo":16,"hi":108}],
"puSpikes":[{"e":2.62,"lo":20,"hi":40},{"e":2.65,"lo":18,"hi":65},{"e":2.68,"lo":20,"hi":33},{"e":25,"lo":3,"hi":15.6},{"e":95,"lo":0.5,"hi":12.8},{"e":205,"lo":0.5,"hi":9},{"e":482,"lo":0.5,"hi":20},{"e":730,"lo":0.5,"hi":12},{"e":745,"lo":0.5,"hi":45},{"e":753,"lo":0.5,"hi":174},{"e":760,"lo":0.5,"hi":60},{"e":768,"lo":0.5,"hi":35},{"e":776,"lo":0.5,"hi":25},{"e":790,"lo":0.5,"hi":12},
{"e":1010,"lo":0.5,"hi":3},{"e":1030,"lo":0.5,"hi":2},{"e":1050,"lo":0.5,"hi":2},{"e":1080,"lo":0.5,"hi":4},{"e":1100,"lo":0.5,"hi":3},{"e":1120,"lo":0.5,"hi":2},{"e":1140,"lo":0.5,"hi":2},{"e":1160,"lo":0.5,"hi":3},{"e":1180,"lo":0.5,"hi":2},{"e":1200,"lo":0.5,"hi":2},{"e":1230,"lo":0.5,"hi":2},{"e":1250,"lo":0.5,"hi":3},{"e":1280,"lo":0.5,"hi":2},{"e":1310,"lo":0.5,"hi":2},{"e":1340,"lo":0.5,"hi":3},{"e":1370,"lo":0.5,"hi":3},{"e":1390,"lo":0.5,"hi":2},{"e":1420,"lo":0.5,"hi":2},{"e":1440,"lo":0.5,"hi":2},{"e":1470,"lo":0.5,"hi":2},{"e":1490,"lo":0.5,"hi":4},{"e":1530,"lo":0.5,"hi":2},{"e":1560,"lo":0.5,"hi":2},{"e":1590,"lo":0.5,"hi":3},{"e":1620,"lo":0.5,"hi":2},{"e":1650,"lo":0.5,"hi":2},{"e":1680,"lo":0.5,"hi":2},{"e":1710,"lo":0.5,"hi":3},{"e":1740,"lo":0.5,"hi":3},{"e":1760,"lo":0.5,"hi":2},{"e":1820,"lo":0.5,"hi":18.6},{"e":1860,"lo":0.5,"hi":2},{"e":1900,"lo":0.5,"hi":5},{"e":1940,"lo":0.5,"hi":2},{"e":1970,"lo":0.5,"hi":3},{"e":2010,"lo":0.5,"hi":3},{"e":2040,"lo":0.5,"hi":2},{"e":2080,"lo":0.5,"hi":2},{"e":2110,"lo":0.5,"hi":3},{"e":2150,"lo":0.5,"hi":2},{"e":2200,"lo":0.5,"hi":2},{"e":2250,"lo":0.5,"hi":3},{"e":2290,"lo":0.5,"hi":2},{"e":2330,"lo":0.5,"hi":2},{"e":2370,"lo":0.5,"hi":3},{"e":2410,"lo":0.5,"hi":2},{"e":2450,"lo":0.5,"hi":2},{"e":2500,"lo":0.5,"hi":2},{"e":2540,"lo":0.5,"hi":3},{"e":2600,"lo":0.5,"hi":2},{"e":2660,"lo":0.5,"hi":4},{"e":2710,"lo":0.5,"hi":3},{"e":2760,"lo":0.5,"hi":2},{"e":2820,"lo":0.5,"hi":2},{"e":2890,"lo":0.5,"hi":3},{"e":2950,"lo":0.5,"hi":2},{"e":3030,"lo":0.5,"hi":2},{"e":3140,"lo":0.5,"hi":2},{"e":3320,"lo":0.5,"hi":2},{"e":3440,"lo":0.5,"hi":3},{"e":3600,"lo":0.5,"hi":3},{"e":3780,"lo":0.5,"hi":2},{"e":3930,"lo":0.5,"hi":3},{"e":4150,"lo":0.5,"hi":2},{"e":4350,"lo":0.5,"hi":2},{"e":4600,"lo":0.5,"hi":2},{"e":4900,"lo":0.5,"hi":7},{"e":5100,"lo":0.5,"hi":2},{"e":5420,"lo":0.5,"hi":3},{"e":5750,"lo":0.5,"hi":2},{"e":6100,"lo":0.5,"hi":2},{"e":6500,"lo":0.5,"hi":2},{"e":6800,"lo":0.5,"hi":3},{"e":7300,"lo":0.5,"hi":2},{"e":7800,"lo":0.5,"hi":2},{"e":8150,"lo":0.5,"hi":2},{"e":8900,"lo":0.5,"hi":2},{"e":9400,"lo":0.5,"hi":2},{"e":10200,"lo":0.5,"hi":2},{"e":10900,"lo":0.5,"hi":2},{"e":11700,"lo":0.5,"hi":3},{"e":12600,"lo":0.5,"hi":2},{"e":13500,"lo":0.5,"hi":4},{"e":14600,"lo":0.5,"hi":2},{"e":15900,"lo":0.5,"hi":2},{"e":17100,"lo":0.5,"hi":2},{"e":18400,"lo":0.5,"hi":2},{"e":21000,"lo":0.5,"hi":2},{"e":22200,"lo":0.5,"hi":3},{"e":23900,"lo":0.5,"hi":2},{"e":28000,"lo":0.5,"hi":7},{"e":29000,"lo":0.5,"hi":2},{"e":32000,"lo":0.5,"hi":2},{"e":34000,"lo":0.5,"hi":2},{"e":35000,"lo":0.5,"hi":3},{"e":38000,"lo":0.5,"hi":3},{"e":41000,"lo":0.5,"hi":2},{"e":45000,"lo":0.5,"hi":3},{"e":48000,"lo":0.5,"hi":2},{"e":53000,"lo":0.5,"hi":3},{"e":54000,"lo":0.5,"hi":2},{"e":59000,"lo":0.5,"hi":2},{"e":64000,"lo":0.5,"hi":2},{"e":68000,"lo":0.5,"hi":2},{"e":74000,"lo":0.5,"hi":2},{"e":81000,"lo":0.5,"hi":3},{"e":84000,"lo":0.5,"hi":2},{"e":87000,"lo":0.5,"hi":3},{"e":94000,"lo":0.5,"hi":2},{"e":100000,"lo":0.5,"hi":2},{"e":104000,"lo":0.5,"hi":2},{"e":106000,"lo":0.5,"hi":3},{"e":111000,"lo":0.5,"hi":2},{"e":116000,"lo":0.5,"hi":2},{"e":120000,"lo":0.5,"hi":2},{"e":125000,"lo":0.5,"hi":2},{"e":132000,"lo":0.5,"hi":2},{"e":137000,"lo":0.5,"hi":3},{"e":142000,"lo":0.5,"hi":2},{"e":150000,"lo":0.5,"hi":2},{"e":156000,"lo":0.5,"hi":2}],
"fitLine":[{"e":0.0893,"c":122.4},{"e":1253,"c":0.852}]
},
"spacing":55,
"bounds":"flush",
"vconcat":[
{"width":1570,"height":500,
 "resolve":{"axis":{"x":"independent","y":"independent"}},
 "layer":[
  {"data":{"name":"uBand"},"mark":{"type":"area","color":"#0000ff","opacity":1,"clip":true},
   "encoding":{"x":{"field":"e","type":"quantitative","scale":{"type":"log","domain":[0.1,5000000],"nice":false},"axis":null},
   "y":{"field":"cl","type":"quantitative","scale":{"type":"log","domain":[2,20000],"nice":false},"axis":null},"y2":{"field":"ch"}}},
  {"data":{"name":"uBand"},"mark":{"type":"rule","color":"#0000ff","strokeWidth":1.2,"clip":true},
   "encoding":{"x":{"field":"e","type":"quantitative","axis":null},"y":{"field":"lo","type":"quantitative","axis":null},"y2":{"field":"hi"}}},
  {"data":{"name":"uRules2"},"mark":{"type":"rule","color":"#0000ff","strokeWidth":1.2,"clip":true},
   "encoding":{"x":{"field":"e","type":"quantitative","axis":null},"y":{"field":"lo","type":"quantitative","axis":null},"y2":{"field":"hi"}}},
  {"data":{"name":"uLine"},"mark":{"type":"line","color":"#0000ff","strokeWidth":1.2,"clip":true},
   "encoding":{"x":{"field":"e","type":"quantitative","axis":null},"y":{"field":"c","type":"quantitative","axis":null}}},
  {"data":{"values":[{}]},"mark":{"type":"point","shape":"M -1 0 A 1 0.467 0 1 1 1 0 A 1 0.467 0 1 1 -1 0 Z","size":236196,"filled":false,"color":"black","strokeWidth":4,"opacity":1},
   "encoding":{"x":{"datum":150000,"type":"quantitative","axis":null},"y":{"datum":37.1,"type":"quantitative","axis":null}}},
  {"data":{"values":[{}]},"mark":{"type":"text","text":"235","font":"Lato","fontWeight":900,"fontSize":40,"align":"left","baseline":"alphabetic","color":"black"},
   "encoding":{"x":{"datum":0.1484,"type":"quantitative","axis":null},"y":{"datum":4581,"type":"quantitative","axis":null}}},
  {"data":{"values":[{}]},"mark":{"type":"text","text":"U","font":"Lato","fontWeight":900,"fontSize":67,"align":"left","baseline":"alphabetic","color":"black"},
   "encoding":{"x":{"datum":0.327,"type":"quantitative","axis":null},"y":{"datum":3289,"type":"quantitative","axis":null}}},
  {"data":{"values":[{}]},"mark":{"type":"text","text":"(2000 bins per energy decade)","font":"Lato","fontWeight":"bold","fontStyle":"italic","fontSize":50,"align":"center","baseline":"alphabetic","color":"black"},
   "encoding":{"x":{"datum":54330,"type":"quantitative","axis":null},"y":{"datum":6745,"type":"quantitative","axis":null}}},
  {"data":{"values":[{}]},"mark":{"type":"text","text":"Absorption dips","font":"Lato","fontWeight":"bold","fontSize":50,"align":"center","baseline":"alphabetic","color":"#ff0000"},
   "encoding":{"x":{"datum":98900,"type":"quantitative","axis":null},"y":{"datum":571,"type":"quantitative","axis":null}}},
  {"data":{"values":[{}]},"mark":{"type":"point","opacity":0},
   "encoding":{"x":{"datum":1,"type":"quantitative","axis":{"orient":"bottom","values":[0.1,1,10,100,1000,10000,100000,1000000],"labelExpr":"'10' + ['\u207b\u00b9','\u2070','\u00b9','\u00b2','\u00b3','\u2074','\u2075','\u2076'][round(log(datum.value)/LN10)+1]","tickSize":10,"labelPadding":8,"grid":true,"title":null}},
   "y":{"datum":100,"type":"quantitative","axis":{"orient":"left","values":[10,100,1000,10000],"labelExpr":"'10' + ['\u207b\u00b9','\u2070','\u00b9','\u00b2','\u00b3','\u2074','\u2075','\u2076'][round(log(datum.value)/LN10)+1]","tickSize":10,"labelPadding":6,"grid":true,"title":"Counts","titlePadding":34}}}},
  {"data":{"values":[{}]},"mark":{"type":"point","opacity":0},
   "encoding":{"x":{"datum":1,"type":"quantitative","axis":{"orient":"bottom","values":[0.2,0.3,0.4,0.5,0.6,0.7,0.8,0.9,2,3,4,5,6,7,8,9,20,30,40,50,60,70,80,90,200,300,400,500,600,700,800,900,2000,3000,4000,5000,6000,7000,8000,9000,20000,30000,40000,50000,60000,70000,80000,90000,200000,300000,400000,500000,600000,700000,800000,900000,2000000,3000000,4000000],"labels":false,"tickSize":6,"grid":false,"domain":false,"title":null}},
   "y":{"datum":100,"type":"quantitative","axis":{"orient":"left","values":[2,3,4,5,6,7,8,9,20,30,40,50,60,70,80,90,200,300,400,500,600,700,800,900,2000,3000,4000,5000,6000,7000,8000,9000],"labels":false,"tickSize":5,"grid":false,"domain":false,"title":null}}}},
  {"data":{"values":[{}]},"mark":{"type":"point","opacity":0},
   "encoding":{"x":{"datum":1,"type":"quantitative","axis":{"orient":"top","values":[0.1,1,10,100,1000,10000,100000,1000000],"labels":false,"tickSize":-9,"grid":false,"title":null}},
   "y":{"datum":100,"type":"quantitative","axis":{"orient":"right","values":[10,100,1000,10000],"labels":false,"tickSize":-9,"grid":false,"title":null}}}},
  {"data":{"values":[{}]},"mark":{"type":"point","opacity":0},
   "encoding":{"x":{"datum":1,"type":"quantitative","axis":{"orient":"top","values":[0.2,0.3,0.4,0.5,0.6,0.7,0.8,0.9,2,3,4,5,6,7,8,9,20,30,40,50,60,70,80,90,200,300,400,500,600,700,800,900,2000,3000,4000,5000,6000,7000,8000,9000,20000,30000,40000,50000,60000,70000,80000,90000,200000,300000,400000,500000,600000,700000,800000,900000,2000000,3000000,4000000],"labels":false,"tickSize":-5,"grid":false,"domain":false,"title":null}},
   "y":{"datum":100,"type":"quantitative","axis":{"orient":"right","values":[2,3,4,5,6,7,8,9,20,30,40,50,60,70,80,90,200,300,400,500,600,700,800,900,2000,3000,4000,5000,6000,7000,8000,9000],"labels":false,"tickSize":-5,"grid":false,"domain":false,"title":null}}}}
 ]},
{"width":1570,"height":500,
 "resolve":{"axis":{"x":"independent","y":"independent"}},
 "layer":[
  {"data":{"name":"puBandA"},"mark":{"type":"area","color":"#ff0000","opacity":1,"clip":true},
   "encoding":{"x":{"field":"e","type":"quantitative","scale":{"type":"log","domain":[0.1,5000000],"nice":false},"axis":null},
   "y":{"field":"cl","type":"quantitative","scale":{"type":"log","domain":[1,500],"nice":false},"axis":null},"y2":{"field":"ch"}}},
  {"data":{"name":"puBandA"},"mark":{"type":"rule","color":"#ff0000","strokeWidth":1.2,"clip":true},
   "encoding":{"x":{"field":"e","type":"quantitative","axis":null},"y":{"field":"lo","type":"quantitative","axis":null},"y2":{"field":"hi"}}},
  {"data":{"name":"puBandB"},"mark":{"type":"area","color":"#ff0000","opacity":1,"clip":true},
   "encoding":{"x":{"field":"e","type":"quantitative","axis":null},"y":{"field":"cl","type":"quantitative","axis":null},"y2":{"field":"ch"}}},
  {"data":{"name":"puBandB"},"mark":{"type":"rule","color":"#ff0000","strokeWidth":1.2,"clip":true},
   "encoding":{"x":{"field":"e","type":"quantitative","axis":null},"y":{"field":"lo","type":"quantitative","axis":null},"y2":{"field":"hi"}}},
  {"data":{"name":"puRules2"},"mark":{"type":"rule","color":"#ff0000","strokeWidth":1.2,"clip":true},
   "encoding":{"x":{"field":"e","type":"quantitative","axis":null},"y":{"field":"lo","type":"quantitative","axis":null},"y2":{"field":"hi"}}},
  {"data":{"name":"puSpikes"},"mark":{"type":"rule","color":"#ff0000","strokeWidth":1,"clip":true},
   "encoding":{"x":{"field":"e","type":"quantitative","axis":null},"y":{"field":"lo","type":"quantitative","axis":null},"y2":{"field":"hi"}}},
  {"data":{"name":"fitLine"},"mark":{"type":"line","color":"black","strokeWidth":5,"strokeDash":[25,17],"clip":false},
   "encoding":{"x":{"field":"e","type":"quantitative","axis":null},"y":{"field":"c","type":"quantitative","axis":null}}},
  {"data":{"values":[{}]},"mark":{"type":"point","shape":"M -0.487 -1.2 L 0.487 -1.2 L 0.487 0 L 1 0 L 0 0.983 L -1 0 L -0.487 0 Z","size":13225,"filled":true,"color":"#00a400","opacity":1,"strokeWidth":0},
   "encoding":{"x":{"datum":2.955,"type":"quantitative","axis":null},"y":{"datum":169.6,"type":"quantitative","axis":null}}},
  {"data":{"values":[{}]},"mark":{"type":"point","shape":"M -0.487 -1.2 L 0.487 -1.2 L 0.487 0 L 1 0 L 0 0.983 L -1 0 L -0.487 0 Z","size":13225,"filled":true,"color":"#00a400","opacity":1,"strokeWidth":0},
   "encoding":{"x":{"datum":1643,"type":"quantitative","axis":null},"y":{"datum":204.4,"type":"quantitative","axis":null}}},
  {"data":{"values":[{}]},"mark":{"type":"text","text":"242","font":"Lato","fontWeight":900,"fontSize":40,"align":"left","baseline":"alphabetic","color":"black"},
   "encoding":{"x":{"datum":0.1268,"type":"quantitative","axis":null},"y":{"datum":258.8,"type":"quantitative","axis":null}}},
  {"data":{"values":[{}]},"mark":{"type":"text","text":"Pu","font":"Lato","fontWeight":900,"fontSize":63,"align":"left","baseline":"alphabetic","color":"black"},
   "encoding":{"x":{"datum":0.2825,"type":"quantitative","axis":null},"y":{"datum":204.4,"type":"quantitative","axis":null}}},
  {"data":{"values":[{}]},"mark":{"type":"text","text":"Resonances","font":"Lato","fontWeight":"bold","fontSize":50,"align":"center","baseline":"alphabetic","color":"#00a400"},
   "encoding":{"x":{"datum":53.1,"type":"quantitative","axis":null},"y":{"datum":222.9,"type":"quantitative","axis":null}}},
  {"data":{"values":[{}]},"mark":{"type":"text","text":"Spontaneous fission","font":"Lato","fontWeight":"bold","fontSize":50,"align":"left","baseline":"alphabetic","color":"#2e3192"},
   "encoding":{"x":{"datum":0.02228,"type":"quantitative","axis":null},"y":{"datum":3.692,"type":"quantitative","axis":null}}},
  {"data":{"values":[{}]},"mark":{"type":"text","text":"background","font":"Lato","fontWeight":"bold","fontSize":50,"align":"center","baseline":"alphabetic","color":"#2e3192"},
   "encoding":{"x":{"datum":0.27,"type":"quantitative","axis":null},"y":{"datum":1.841,"type":"quantitative","axis":null}}},
  {"data":{"values":[{}]},"mark":{"type":"point","opacity":0},
   "encoding":{"x":{"datum":1,"type":"quantitative","axis":{"orient":"bottom","values":[0.1,1,10,100,1000,10000,100000,1000000],"labelExpr":"'10' + ['\u207b\u00b9','\u2070','\u00b9','\u00b2','\u00b3','\u2074','\u2075','\u2076'][round(log(datum.value)/LN10)+1]","tickSize":10,"labelPadding":8,"grid":true,"title":"Neutron Energy (eV)","titlePadding":23}},
   "y":{"datum":10,"type":"quantitative","axis":{"orient":"left","values":[1,10,100],"labelExpr":"'10' + ['\u207b\u00b9','\u2070','\u00b9','\u00b2','\u00b3','\u2074','\u2075','\u2076'][round(log(datum.value)/LN10)+1]","tickSize":10,"labelPadding":6,"grid":true,"title":"Counts","titlePadding":34}}}},
  {"data":{"values":[{}]},"mark":{"type":"point","opacity":0},
   "encoding":{"x":{"datum":1,"type":"quantitative","axis":{"orient":"bottom","values":[0.2,0.3,0.4,0.5,0.6,0.7,0.8,0.9,2,3,4,5,6,7,8,9,20,30,40,50,60,70,80,90,200,300,400,500,600,700,800,900,2000,3000,4000,5000,6000,7000,8000,9000,20000,30000,40000,50000,60000,70000,80000,90000,200000,300000,400000,500000,600000,700000,800000,900000,2000000,3000000,4000000],"labels":false,"tickSize":6,"grid":false,"domain":false,"title":null}},
   "y":{"datum":10,"type":"quantitative","axis":{"orient":"left","values":[2,3,4,5,6,7,8,9,20,30,40,50,60,70,80,90,200,300,400],"labels":false,"tickSize":5,"grid":false,"domain":false,"title":null}}}},
  {"data":{"values":[{}]},"mark":{"type":"point","opacity":0},
   "encoding":{"x":{"datum":1,"type":"quantitative","axis":{"orient":"top","values":[0.1,1,10,100,1000,10000,100000,1000000],"labels":false,"tickSize":-9,"grid":false,"title":null}},
   "y":{"datum":10,"type":"quantitative","axis":{"orient":"right","values":[1,10,100],"labels":false,"tickSize":-9,"grid":false,"title":null}}}},
  {"data":{"values":[{}]},"mark":{"type":"point","opacity":0},
   "encoding":{"x":{"datum":1,"type":"quantitative","axis":{"orient":"top","values":[0.2,0.3,0.4,0.5,0.6,0.7,0.8,0.9,2,3,4,5,6,7,8,9,20,30,40,50,60,70,80,90,200,300,400,500,600,700,800,900,2000,3000,4000,5000,6000,7000,8000,9000,20000,30000,40000,50000,60000,70000,80000,90000,200000,300000,400000,500000,600000,700000,800000,900000,2000000,3000000,4000000],"labels":false,"tickSize":-5,"grid":false,"domain":false,"title":null}},
   "y":{"datum":10,"type":"quantitative","axis":{"orient":"right","values":[2,3,4,5,6,7,8,9,20,30,40,50,60,70,80,90,200,300,400],"labels":false,"tickSize":-5,"grid":false,"domain":false,"title":null}}}}
 ]}
]}
